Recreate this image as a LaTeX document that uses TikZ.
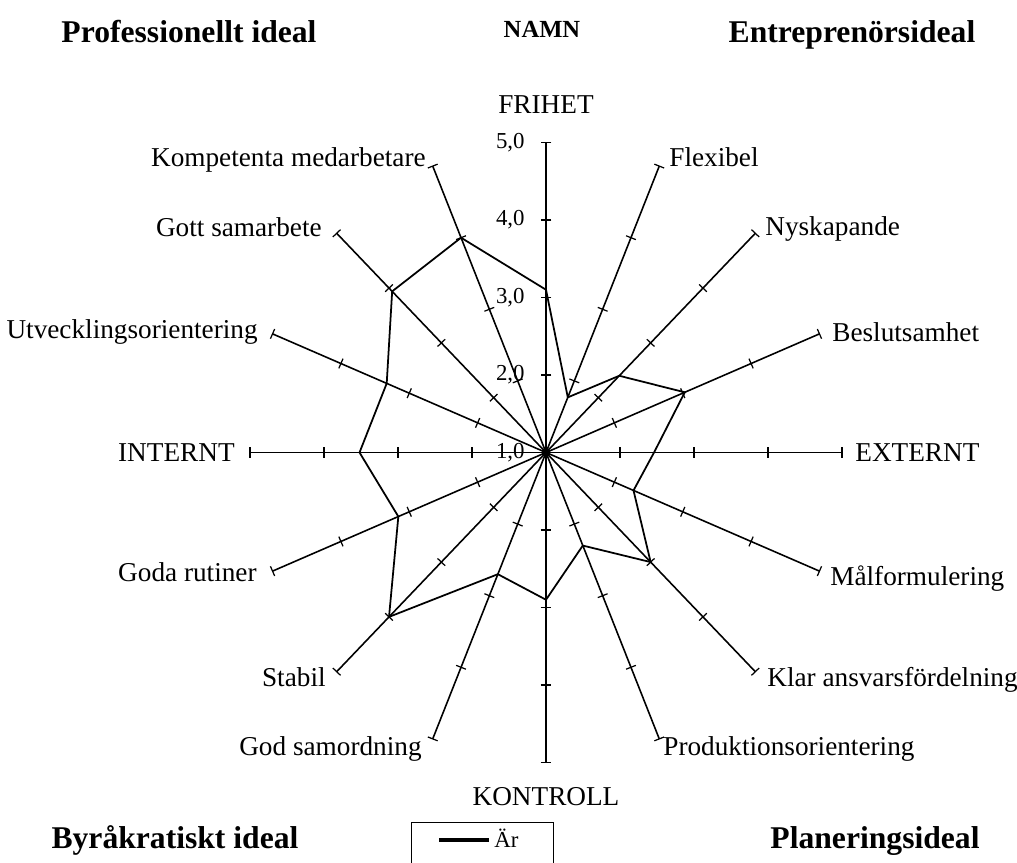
\documentclass[tikz,border=0pt]{standalone}
\usepackage{fontspec}
\setmainfont{Liberation Serif}
\usetikzlibrary{calc}

\tikzset{
  axisline/.style={line width=0.9pt},
  tickline/.style={line width=0.7pt},
  dataline/.style={line width=1pt, line join=miter},
  axlabel/.style={font=\fontsize{15.5}{18}\selectfont, inner sep=0pt},
  vallabel/.style={font=\fontsize{13}{15}\selectfont, anchor=east, inner sep=0pt},
  ideal/.style={font=\fontsize{18}{21}\selectfont\bfseries, inner sep=0pt, anchor=base},
}

\begin{document}
\begin{tikzpicture}
  \useasboundingbox (0,0) rectangle (20.34,17.26);
  \coordinate (O) at (10.92,8.21);

  % radar axes, ticks and data
  \begin{scope}[shift={(O)},x=1.48cm,y=1.55cm]
    \foreach \k in {0,...,15} {
      \pgfmathsetmacro{\a}{90-22.5*\k}
      \coordinate (ax\k) at (\a:4);
      \draw[axisline] (0,0) -- (ax\k);
      \foreach \r in {1,...,4}
        \draw[tickline] ($(\a:\r)!3pt!90:(0,0)$) -- ($(\a:\r)!3pt!-90:(0,0)$);
    }
    \foreach \r in {0,...,4} {
      \pgfmathtruncatemacro{\v}{\r+1}
      \node[vallabel, xshift=-12pt] (val\v) at (90:\r) {\v,0};
    }
    \draw[dataline] (90:2.10) -- (67.5:0.77) -- (45:1.40) -- (22.5:2.03)
      -- (0:1.46) -- (-22.5:1.28) -- (-45:2.00) -- (-67.5:1.30)
      -- (-90:1.90) -- (-112.5:1.70) -- (-135:3.00) -- (-157.5:2.16)
      -- (180:2.52) -- (157.5:2.33) -- (135:2.94) -- (112.5:3.00) -- cycle;
    \fill (0,0) circle (2.5pt);
  \end{scope}

  % axis labels
  \node[axlabel, anchor=base] (frihet) at (10.92,14.98) {FRIHET};
  \node[axlabel, anchor=base] (kontroll) at (10.92,1.14) {KONTROLL};
  \foreach \nm/\x/\y/\txt in {
      komp/8.52/13.92/Kompetenta medarbetare,
      gott/6.44/12.52/Gott samarbete,
      utv/5.16/10.48/Utvecklingsorientering,
      internt/4.70/8.02/INTERNT,
      goda/5.14/5.62/Goda rutiner,
      stabil/6.52/3.52/Stabil,
      godsam/8.44/2.14/God samordning}
    \node[axlabel, anchor=base east] (\nm) at (\x,\y) {\txt};
  \foreach \nm/\x/\y/\txt in {
      flex/13.38/13.92/Flexibel,
      nysk/15.30/12.54/Nyskapande,
      besl/16.64/10.42/Beslutsamhet,
      externt/17.10/8.02/EXTERNT,
      malf/16.60/5.54/Målformulering,
      klar/15.34/3.52/Klar ansvarsfördelning,
      prod/13.26/2.14/Produktionsorientering}
    \node[axlabel, anchor=base west] (\nm) at (\x,\y) {\txt};

  % corner titles
  \node[ideal] (prof) at (3.78,16.40) {Professionellt ideal};
  \node[ideal] (entr) at (17.04,16.40) {Entreprenörsideal};
  \node[ideal] (byr) at (3.50,0.28) {Byråkratiskt ideal};
  \node[ideal] (plan) at (17.50,0.28) {Planeringsideal};
  \node[font=\fontsize{14}{16}\selectfont\bfseries, inner sep=0pt, anchor=base] (namn) at (10.84,16.50) {NAMN};

  % legend
  \node[draw, line width=0.6pt, minimum width=2.84cm, minimum height=1.2cm, anchor=north west, inner sep=0pt] (legend) at (8.22,0.82) {};
  \coordinate (keyA) at (8.78,0.46);
  \coordinate (keyB) at (9.78,0.46);
  \draw[line width=1.8pt] (keyA) -- (keyB);
  \node[font=\fontsize{13}{15}\selectfont, inner sep=0pt, anchor=base west] (ar) at (9.88,0.30) {Är};
\end{tikzpicture}
\end{document}
